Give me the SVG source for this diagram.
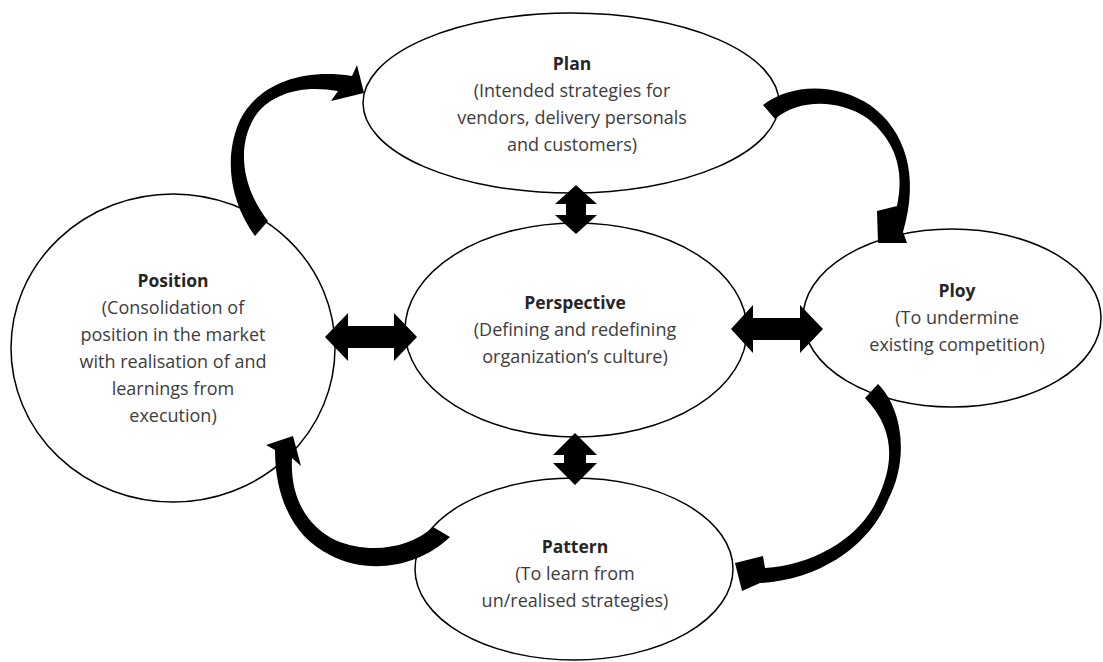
<svg xmlns="http://www.w3.org/2000/svg" width="1103" height="662" viewBox="0 0 1103 662">
<style>
  .node { fill: #ffffff; stroke: #000000; stroke-width: 1.5; }
  .t { font-family: "Open Sans", "Liberation Sans", sans-serif; font-size: 18px; fill: #3d3d3d; text-anchor: middle; }
  .h { font-weight: bold; fill: #262626; font-size: 17.5px; }
  .arrow { fill: #000000; stroke: none; }
</style>
<rect width="1103" height="662" fill="#ffffff"/>
<g id="plan">
  <ellipse class="node" cx="571" cy="103" rx="208" ry="90"/>
  <text class="t h" x="572" y="70">Plan</text>
  <text class="t" x="572" y="97">(Intended strategies for</text>
  <text class="t" x="572" y="124">vendors, delivery personals</text>
  <text class="t" x="572" y="151">and customers)</text>
</g>
<g id="position">
  <ellipse class="node" cx="173" cy="348" rx="162" ry="154"/>
  <text class="t h" x="173" y="287">Position</text>
  <text class="t" x="173" y="314">(Consolidation of</text>
  <text class="t" x="173" y="341">position in the market</text>
  <text class="t" x="173" y="368">with realisation of and</text>
  <text class="t" x="173" y="395">learnings from</text>
  <text class="t" x="173" y="422">execution)</text>
</g>
<g id="perspective">
  <ellipse class="node" cx="576" cy="330" rx="171" ry="107"/>
  <text class="t h" x="575" y="309">Perspective</text>
  <text class="t" x="575" y="336">(Defining and redefining</text>
  <text class="t" x="575" y="363">organization’s culture)</text>
</g>
<g id="ploy">
  <ellipse class="node" cx="952" cy="318" rx="149" ry="89"/>
  <text class="t h" x="957" y="297">Ploy</text>
  <text class="t" x="957" y="324">(To undermine</text>
  <text class="t" x="957" y="351">existing competition)</text>
</g>
<g id="pattern">
  <ellipse class="node" cx="574" cy="569" rx="159" ry="91"/>
  <text class="t h" x="575" y="553">Pattern</text>
  <text class="t" x="575" y="580">(To learn from</text>
  <text class="t" x="575" y="607">un/realised strategies)</text>
</g>
<g id="connectors">
  <!-- Position -> Plan -->
  <path class="arrow" d="M255,236 C232,205 222,160 240,120 C258,85 300,68 352,76 L357,65 L364,93 L331,101 L338,91 C300,84 268,95 254,118 C238,145 240,185 268,221 Z"/>
  <!-- Plan -> Ploy -->
  <path class="arrow" d="M763,105 C790,84 835,82 870,105 C905,130 920,175 903,232 L907,243 L878,243 L877,211 L897,206 C905,170 895,140 867,118 C840,100 800,98 775,119 Z"/>
  <!-- Ploy -> Pattern -->
  <path class="arrow" d="M865,398 L878,384 C902,408 910,458 888,500 C870,545 820,580 760,583 L742,591 L735,563 L763,556 L765,568 C815,565 860,537 877,500 C894,465 896,430 865,398 Z"/>
  <!-- Pattern -> Position -->
  <path class="arrow" d="M450,537 C420,566 370,576 330,555 C295,538 275,500 275,450 L266,445 L293,436 L301,466 L292,458 C290,495 305,525 335,540 C370,555 410,548 433,527 Z"/>
  <!-- Plan <-> Perspective -->
  <polygon class="arrow" points="576,185 597,204 586,204 586,215 597,215 576,234 555,215 566,215 566,204 555,204"/>
  <!-- Perspective <-> Pattern -->
  <polygon class="arrow" points="575,433 597,455 586,455 586,463 597,463 575,485 553,463 564,463 564,455 553,455"/>
  <!-- Position <-> Perspective -->
  <polygon class="arrow" points="325,337 348,313 348,326 394,326 394,313 417,337 394,361 394,348 348,348 348,361"/>
  <!-- Perspective <-> Ploy -->
  <polygon class="arrow" points="731,329 753,305 753,318 800,318 800,305 823,329 800,353 800,340 753,340 753,353"/>
</g>
</svg>
